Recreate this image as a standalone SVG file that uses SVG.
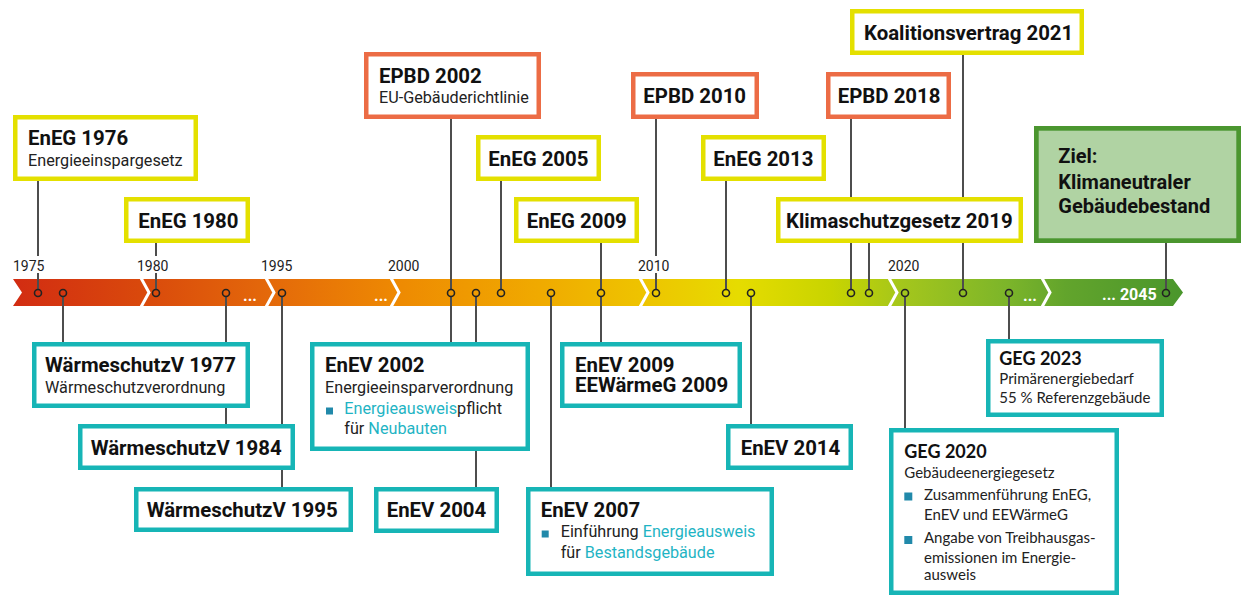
<svg xmlns="http://www.w3.org/2000/svg" width="1243" height="596" viewBox="0 0 1243 596">
<defs>
<linearGradient id="bar" gradientUnits="userSpaceOnUse" x1="13" y1="0" x2="1183" y2="0">
<stop offset="0" stop-color="#d22c12"/>
<stop offset="0.11" stop-color="#d9490c"/>
<stop offset="0.22" stop-color="#e4690a"/>
<stop offset="0.33" stop-color="#ee8a02"/>
<stop offset="0.45" stop-color="#f0aa00"/>
<stop offset="0.54" stop-color="#eec400"/>
<stop offset="0.62" stop-color="#e6dc00"/>
<stop offset="0.70" stop-color="#c8d400"/>
<stop offset="0.76" stop-color="#a4c61c"/>
<stop offset="0.85" stop-color="#7cb52a"/>
<stop offset="0.90" stop-color="#62a42c"/>
<stop offset="1" stop-color="#4a962c"/>
</linearGradient>
<style>
.box{fill:#fff;stroke-width:4.5}
.y{stroke:#e4e000}
.o{stroke:#ec6c45}
.t{stroke:#17b5b6}
.g{stroke:#4b962f;fill:#b0d3a3}
.ti{font-family:Roboto,"Liberation Sans",sans-serif;font-weight:bold;font-size:20.4px;fill:#111}
.zt{font-family:Roboto,"Liberation Sans",sans-serif;font-weight:bold;font-size:20px;fill:#111}
.su{font-family:Roboto,"Liberation Sans",sans-serif;font-size:16.2px;fill:#222}
.hl{fill:#1fb4c4}
.bs{fill:#2189aa}
.gt{font-family:Lato,"Noto Sans",sans-serif;font-weight:bold;font-size:18px;fill:#111}
.gs{font-family:Lato,"Noto Sans",sans-serif;font-size:15px;fill:#222}
.yr{font-family:Roboto,"Liberation Sans",sans-serif;font-size:14px;fill:#222}
.wd{font-family:Roboto,"Liberation Sans",sans-serif;font-weight:bold;font-size:16px;fill:#fff}
.ln{stroke:#4d4d4d;stroke-width:2;fill:none}
.dot{fill:none;stroke:#222;stroke-width:1.6}
.sep{fill:none;stroke:#fff;stroke-width:3}
</style>
</defs>
<rect width="1243" height="596" fill="#fff"/>

<g id="timeline">
<path d="M13,279 L1173,279 L1183,292.5 L1173,306 L13,306 L22,292.5 Z" fill="url(#bar)"/>
<path class="sep" d="M141,278 L149,292.5 L141,307 M266,278 L274,292.5 L266,307 M391,278 L399,292.5 L391,307 M640,278 L648,292.5 L640,307 M889,278 L897,292.5 L889,307 M1042,278 L1050,292.5 L1042,307"/>
<text class="yr" x="13" y="271">1975</text>
<text class="yr" x="137" y="271">1980</text>
<text class="yr" x="261" y="271">1995</text>
<text class="yr" x="388" y="271">2000</text>
<text class="yr" x="638" y="271">2010</text>
<text class="yr" x="888" y="271">2020</text>
<text class="wd" x="243" y="301">...</text>
<text class="wd" x="374" y="301">...</text>
<text class="wd" x="1023" y="301">...</text>
<text class="wd" x="1102" y="300" font-size="17">... 2045</text>
</g>

<g id="connectors">
<path class="ln" d="M38,181 V256 M38,273 V289.5 M156,243 V256 M156,273 V289.5 M451,119 V289.5 M501,181 V289.5 M601,243 V289.5 M656,119 V256 M656,273 V289.5 M726,181 V289.5 M851,119 V289.5 M869,243 V289.5 M963,55 V289.5 M1166,243 V289.5"/>
<path class="ln" d="M63,296.5 V342 M226,296.5 V424 M282,296.5 V487 M451,296.5 V342 M476,296.5 V487 M551,296.5 V487 M601,296.5 V342 M751,296.5 V424 M905,296.5 V428 M1009,296.5 V339"/>
<g class="dot">
<circle cx="38" cy="293" r="3.5"/><circle cx="63" cy="293" r="3.5"/><circle cx="156" cy="293" r="3.5"/><circle cx="226" cy="293" r="3.5"/><circle cx="282" cy="293" r="3.5"/><circle cx="451" cy="293" r="3.5"/><circle cx="476" cy="293" r="3.5"/><circle cx="501" cy="293" r="3.5"/><circle cx="551" cy="293" r="3.5"/><circle cx="601" cy="293" r="3.5"/><circle cx="656" cy="293" r="3.5"/><circle cx="726" cy="293" r="3.5"/><circle cx="751" cy="293" r="3.5"/><circle cx="851" cy="293" r="3.5"/><circle cx="869" cy="293" r="3.5"/><circle cx="905" cy="293" r="3.5"/><circle cx="963" cy="293" r="3.5"/><circle cx="1009" cy="293" r="3.5"/><circle cx="1166" cy="293" r="3.5"/>
</g>
</g>

<g id="eneg1976"><rect class="box y" x="15.25" y="117.25" width="180.5" height="61.5"/><text class="ti" x="28" y="145">EnEG 1976</text><text class="su" x="28" y="165.7">Energieeinspargesetz</text></g>
<g id="eneg1980"><rect class="box y" x="126.25" y="199.25" width="121.5" height="41.5"/><text class="ti" x="138.3" y="228">EnEG 1980</text></g>
<g id="epbd2002"><rect class="box o" x="366.25" y="54.25" width="172.5" height="62.5"/><text class="ti" x="379" y="83">EPBD 2002</text><text class="su" x="379" y="102.7">EU-Gebäuderichtlinie</text></g>
<g id="eneg2005"><rect class="box y" x="478.25" y="137.25" width="120.5" height="41.5"/><text class="ti" x="488.3" y="165.7">EnEG 2005</text></g>
<g id="eneg2009"><rect class="box y" x="516.25" y="199.25" width="120.5" height="41.5"/><text class="ti" x="526.7" y="227.7">EnEG 2009</text></g>
<g id="epbd2010"><rect class="box o" x="633.25" y="74.25" width="123.5" height="42.5"/><text class="ti" x="643.3" y="103.3">EPBD 2010</text></g>
<g id="eneg2013"><rect class="box y" x="703.25" y="137.25" width="120.5" height="41.5"/><text class="ti" x="713.3" y="165.7">EnEG 2013</text></g>
<g id="klima2019"><rect class="box y" x="778.25" y="199.25" width="242.5" height="41.5"/><text class="ti" x="786" y="227.7">Klimaschutzgesetz 2019</text></g>
<g id="epbd2018"><rect class="box o" x="828.25" y="74.25" width="120.5" height="42.5"/><text class="ti" x="837.7" y="102.7">EPBD 2018</text></g>
<g id="koalition2021"><rect class="box y" x="852.25" y="11.25" width="229.5" height="41.5"/><text class="ti" x="864" y="40">Koalitionsvertrag 2021</text></g>
<g id="ziel"><rect class="g" stroke-width="4.7" x="1036.35" y="128.35" width="202.3" height="112.3"/><text class="zt" x="1058.3" y="163.3">Ziel:</text><text class="zt" x="1058.3" y="189.3">Klimaneutraler</text><text class="zt" x="1058.3" y="212.7">Gebäudebestand</text></g>

<g id="waermeschutz1977"><rect class="box t" x="34.25" y="344.25" width="213.5" height="61.5"/><text class="ti" x="45" y="371.7">WärmeschutzV 1977</text><text class="su" x="45" y="392.7">Wärmeschutzverordnung</text></g>
<g id="waermeschutz1984"><rect class="box t" x="80.25" y="426.25" width="212.5" height="41.5"/><text class="ti" x="90.7" y="455">WärmeschutzV 1984</text></g>
<g id="waermeschutz1995"><rect class="box t" x="136.25" y="489.25" width="214.5" height="40.5"/><text class="ti" x="146.7" y="517.3">WärmeschutzV 1995</text></g>
<g id="enev2002"><rect class="box t" x="312.25" y="344.25" width="215.5" height="104.5"/><text class="ti" x="325" y="371.7">EnEV 2002</text><text class="su" x="325" y="392.7">Energieeinsparverordnung</text><rect class="bs" x="326" y="407.5" width="7" height="7"/><text class="su" x="344.3" y="414"><tspan class="hl">Energieausweis</tspan>pflicht</text><text class="su" x="344.3" y="434.3">für <tspan class="hl">Neubauten</tspan></text></g>
<g id="enev2004"><rect class="box t" x="376.25" y="489.25" width="120.5" height="41.5"/><text class="ti" x="386.7" y="517.3">EnEV 2004</text></g>
<g id="enev2009"><rect class="box t" x="562.25" y="344.25" width="177.5" height="61.5"/><text class="ti" x="575" y="371.7">EnEV 2009</text><text class="ti" x="575" y="392.3">EEWärmeG 2009</text></g>
<g id="enev2014"><rect class="box t" x="728.25" y="426.25" width="122.5" height="41.5"/><text class="ti" x="740.7" y="455">EnEV 2014</text></g>
<g id="enev2007"><rect class="box t" x="528.25" y="489.25" width="243.5" height="84.5"/><text class="ti" x="540.7" y="517.3">EnEV 2007</text><rect class="bs" x="541.7" y="530.5" width="7" height="7"/><text class="su" x="560.7" y="537.3">Einführung <tspan class="hl">Energieausweis</tspan></text><text class="su" x="560.7" y="557.7">für <tspan class="hl">Bestandsgebäude</tspan></text></g>
<g id="geg2023"><rect class="box t" x="988.25" y="341.25" width="173.5" height="73.5"/><text class="gt" x="999.3" y="365">GEG 2023</text><text class="gs" x="999.3" y="384">Primärenergiebedarf</text><text class="gs" x="999.3" y="402.7">55 % Referenzgebäude</text></g>
<g id="geg2020"><rect class="box t" x="891.25" y="430.25" width="225.5" height="162.5"/><text class="gt" x="904.3" y="457.7">GEG 2020</text><text class="gs" x="904.3" y="478.3">Gebäudeenergiegesetz</text><rect class="bs" x="904.3" y="492.5" width="8" height="8"/><text class="gs" x="924" y="500">Zusammenführung EnEG,</text><text class="gs" x="924" y="520">EnEV und EEWärmeG</text><rect class="bs" x="904.3" y="536" width="8" height="8"/><text class="gs" x="924" y="543.3">Angabe von Treibhausgas-</text><text class="gs" x="924" y="562.7">emissionen im Energie-</text><text class="gs" x="924" y="580">ausweis</text></g>
</svg>
